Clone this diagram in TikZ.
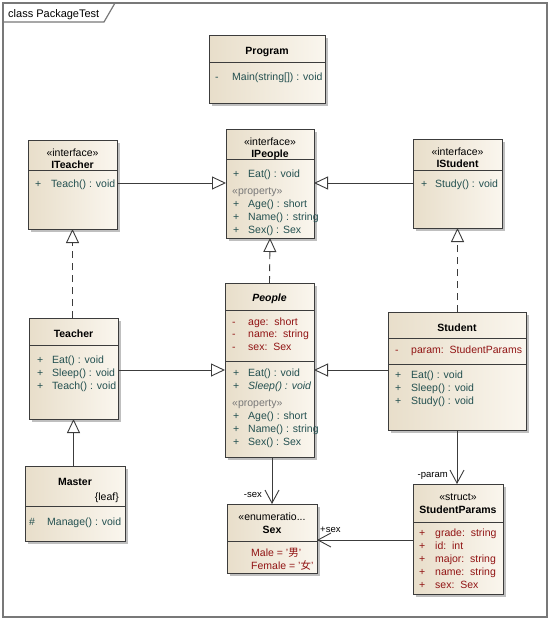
\documentclass[tikz,border=0pt]{standalone}
\usepackage{fontspec}
\setmainfont{Liberation Sans}
\newfontfamily\cjk{Noto Sans CJK SC}
\usetikzlibrary{arrows.meta,shadows}
\definecolor{clsline}{RGB}{60,60,60}
\definecolor{clslight}{RGB}{250,246,238}
\definecolor{clsdark}{RGB}{232,222,202}
\definecolor{opc}{RGB}{35,80,80}
\definecolor{atc}{RGB}{145,20,20}
\definecolor{prc}{RGB}{120,120,120}
\definecolor{framec}{RGB}{120,120,120}
\tikzset{
  cls/.style={draw=clsline, line width=0.9pt, left color=clsdark, right color=clslight,
    inner sep=0pt, outer sep=0pt,
    drop shadow={shadow xshift=2.5pt, shadow yshift=-2.5pt, fill=black, opacity=0.25}},
  sepline/.style={draw=clsline, line width=0.9pt},
  txt/.style={inner sep=0pt, anchor=west, text height=7.6pt, text depth=2.2pt, yshift=-1.3pt,
    font=\fontsize{10.5}{12}\selectfont},
  ctr/.style={txt, anchor=center},
  ttl/.style={ctr, font=\fontsize{10.5}{12}\selectfont\bfseries},
  op/.style={txt, text=opc},
  attr/.style={txt, text=atc},
  pr/.style={txt, text=prc},
  lbl/.style={txt, font=\fontsize{9.5}{11}\selectfont},
  conn/.style={draw=clsline, line width=0.9pt},
  realize/.style={conn, -{Triangle[open, length=14pt, width=13pt]}},
  implem/.style={realize, dash pattern=on 7pt off 5pt},
  assoc/.style={conn, -{Straight Barb[length=13pt, width=14pt]}},
}
\begin{document}
\begin{tikzpicture}[x=1pt, y=-1pt]
\useasboundingbox (0,0) rectangle (551,621);
\fill[white] (0,0) rectangle (551,621);
% frame
\draw[framec, line width=1.2pt] (3,3) rectangle (547,617);
\draw[framec, line width=1.2pt] (3,22) -- (104,22) -- (115,3);
\node[txt, font=\fontsize{11}{13}\selectfont] (frametitle) at (8,13) {class PackageTest};

% ---------- Program
\node[cls, minimum width=116pt, minimum height=68pt] (program) at (267,69) {};
\draw[sepline] (program.west |- 0,62) -- (program.east |- 0,62);
\node[ttl] (programT) at (267,50) {Program};
\node[op] (programV1) at (215,76) {-};
\node[op] (programM1) at (232,76) {Main(string[]) : void};

% ---------- ITeacher
\node[cls, minimum width=89pt, minimum height=89pt] (iteacher) at (72.5,184.5) {};
\draw[sepline] (iteacher.west |- 0,170) -- (iteacher.east |- 0,170);
\node[ctr] (iteacherS) at (72.5,152) {«interface»};
\node[ttl] (iteacherT) at (72.5,164) {ITeacher};
\node[op] (iteacherV1) at (35,183) {+};
\node[op] (iteacherM1) at (51,183) {Teach() : void};

% ---------- IPeople
\node[cls, minimum width=88pt, minimum height=109pt] (ipeople) at (270,183.5) {};
\draw[sepline] (ipeople.west |- 0,159) -- (ipeople.east |- 0,159);
\node[ctr] (ipeopleS) at (270,141) {«interface»};
\node[ttl] (ipeopleT) at (270,153.5) {IPeople};
\node[op] (ipeopleV1) at (233,173) {+};
\node[op] (ipeopleM1) at (248,173) {Eat() : void};
\node[pr] (ipeopleP) at (232,190) {«property»};
\node[op] (ipeopleV2) at (233,203) {+};
\node[op] (ipeopleM2) at (248,203) {Age() : short};
\node[op] (ipeopleV3) at (233,216) {+};
\node[op] (ipeopleM3) at (248,216) {Name() : string};
\node[op] (ipeopleV4) at (233,229) {+};
\node[op] (ipeopleM4) at (248,229) {Sex() : Sex};

% ---------- IStudent
\node[cls, minimum width=89pt, minimum height=89pt] (istudent) at (457.5,183.5) {};
\draw[sepline] (istudent.west |- 0,170) -- (istudent.east |- 0,170);
\node[ctr] (istudentS) at (457.5,151) {«interface»};
\node[ttl] (istudentT) at (457.5,163) {IStudent};
\node[op] (istudentV1) at (421,183) {+};
\node[op] (istudentM1) at (435,183) {Study() : void};

% ---------- Teacher
\node[cls, minimum width=89pt, minimum height=101pt] (teacher) at (73.5,368.5) {};
\draw[sepline] (teacher.west |- 0,345) -- (teacher.east |- 0,345);
\node[ttl] (teacherT) at (73.5,333) {Teacher};
\node[op] (teacherV1) at (37,359) {+};
\node[op] (teacherM1) at (52,359) {Eat() : void};
\node[op] (teacherV2) at (37,372) {+};
\node[op] (teacherM2) at (52,372) {Sleep() : void};
\node[op] (teacherV3) at (37,385) {+};
\node[op] (teacherM3) at (52,385) {Teach() : void};

% ---------- People
\node[cls, minimum width=89pt, minimum height=174pt] (people) at (269.5,370) {};
\draw[sepline] (people.west |- 0,310) -- (people.east |- 0,310);
\draw[sepline] (people.west |- 0,361) -- (people.east |- 0,361);
\node[ttl, font=\fontsize{10.5}{12}\selectfont\bfseries\itshape] (peopleT) at (269.5,297) {People};
\node[attr] (peopleV1) at (232,321) {-};
\node[attr] (peopleA1) at (248,321) {age:\ \ short};
\node[attr] (peopleV2) at (232,333) {-};
\node[attr] (peopleA2) at (248,333) {name:\ \ string};
\node[attr] (peopleV3) at (232,346) {-};
\node[attr] (peopleA3) at (248,346) {sex:\ \ Sex};
\node[op] (peopleV4) at (233,372) {+};
\node[op] (peopleM1) at (248,372) {Eat() : void};
\node[op] (peopleV5) at (233,385) {+};
\node[op, font=\fontsize{10.5}{12}\selectfont\itshape] (peopleM2) at (248,385) {Sleep() : void};
\node[pr] (peopleP) at (232,402) {«property»};
\node[op] (peopleV6) at (233,415) {+};
\node[op] (peopleM3) at (248,415) {Age() : short};
\node[op] (peopleV7) at (233,428) {+};
\node[op] (peopleM4) at (248,428) {Name() : string};
\node[op] (peopleV8) at (233,441) {+};
\node[op] (peopleM5) at (248,441) {Sex() : Sex};

% ---------- Student
\node[cls, minimum width=138pt, minimum height=118pt] (student) at (457,371) {};
\draw[sepline] (student.west |- 0,338) -- (student.east |- 0,338);
\draw[sepline] (student.west |- 0,364) -- (student.east |- 0,364);
\node[ttl] (studentT) at (457,327) {Student};
\node[attr] (studentV1) at (395,349) {-};
\node[attr] (studentA1) at (411,349) {param:\ \ StudentParams};
\node[op] (studentV2) at (395,374) {+};
\node[op] (studentM1) at (411,374) {Eat() : void};
\node[op] (studentV3) at (395,387) {+};
\node[op] (studentM2) at (411,387) {Sleep() : void};
\node[op] (studentV4) at (395,400) {+};
\node[op] (studentM3) at (411,400) {Study() : void};

% ---------- Master
\node[cls, minimum width=100pt, minimum height=75pt] (master) at (75,503.5) {};
\draw[sepline] (master.west |- 0,506) -- (master.east |- 0,506);
\node[ttl] (masterT) at (75,481) {Master};
\node[txt, anchor=east] (masterL) at (119,496) {\{leaf\}};
\node[op] (masterV1) at (29,521) {\#};
\node[op] (masterM1) at (47,521) {Manage() : void};

% ---------- Sex
\node[cls, minimum width=90pt, minimum height=69pt] (sexbox) at (272,538.5) {};
\draw[sepline] (sexbox.west |- 0,541) -- (sexbox.east |- 0,541);
\node[ctr] (sexS) at (272,516.5) {«enumeratio...};
\node[ttl] (sexT) at (272,529) {Sex};
\node[attr] (sexA1) at (251,552) {Male = '{\cjk 男}'};
\node[attr] (sexA2) at (251,565) {Female = '{\cjk 女}'};

% ---------- StudentParams
\node[cls, minimum width=90pt, minimum height=110pt] (sparams) at (458,539) {};
\draw[sepline] (sparams.west |- 0,522) -- (sparams.east |- 0,522);
\node[ctr] (sparamsS) at (458,496.5) {«struct»};
\node[ttl] (sparamsT) at (458,509) {StudentParams};
\node[attr] (sparamsV1) at (419,532) {+};
\node[attr] (sparamsA1) at (435,532) {grade:\ \ string};
\node[attr] (sparamsV2) at (419,545) {+};
\node[attr] (sparamsA2) at (435,545) {id:\ \ int};
\node[attr] (sparamsV3) at (419,558) {+};
\node[attr] (sparamsA3) at (435,558) {major:\ \ string};
\node[attr] (sparamsV4) at (419,571) {+};
\node[attr] (sparamsA4) at (435,571) {name:\ \ string};
\node[attr] (sparamsV5) at (419,584) {+};
\node[attr] (sparamsA5) at (435,584) {sex:\ \ Sex};

% ---------- connectors
\draw[realize] (iteacher.east |- 0,183) -- (ipeople.west |- 0,183);
\draw[realize] (istudent.west |- 0,183) -- (ipeople.east |- 0,183);
\draw[implem] (people.north) -- (ipeople.south);
\draw[implem] (teacher.north -| iteacher.south) -- (iteacher.south);
\draw[implem] (student.north -| istudent.south) -- (istudent.south);
\draw[realize] (teacher.east |- 0,370) -- (people.west |- 0,370);
\draw[realize] (student.west |- 0,370) -- (people.east |- 0,370);
\draw[realize] (master.north -| teacher.south) -- (teacher.south);
\draw[assoc] (people.south -| sexbox.north) -- (sexbox.north);
\draw[assoc] (student.south) -- (student.south |- sparams.north);
\draw[assoc] (sparams.west |- 0,540) -- (sexbox.east |- 0,540);
\node[lbl, anchor=east] (lblsex) at (262,493) {-sex};
\node[lbl, anchor=east] (lblparam) at (448,473) {-param};
\node[lbl] (lblpsex) at (320,528) {+sex};
\end{tikzpicture}
\end{document}
